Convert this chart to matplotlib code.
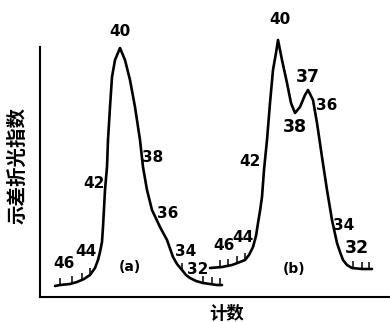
import matplotlib.pyplot as plt
import numpy as np

plt.rcParams['font.family'] = ['Liberation Sans Narrow', 'DejaVu Sans']

# elution curves (count axis, refractive index difference)
a_x = [15, 20, 30, 37, 44, 50, 55, 58, 60, 62, 63, 65, 67, 68, 70, 72, 75,
       80, 85, 90, 95, 100, 103, 107, 112, 120, 127, 133, 137, 142, 146,
       150, 156, 163, 177, 182]
a_y = [11, 12, 13, 15, 18, 22, 29, 37, 45, 55, 70, 107, 130, 157, 190, 220,
       237, 249, 237, 217, 190, 157, 130, 107, 87, 70, 57, 40, 33, 27, 22,
       19, 16, 14, 12, 12]

b_x = [170, 182, 192, 200, 205, 209, 213, 216, 218, 220, 222, 224, 227, 230,
       233, 236, 238, 242, 247, 251, 255, 260, 265, 268, 273, 277, 282, 287,
       292, 297, 300, 303, 307, 312, 322, 332]
b_y = [29, 30, 32, 35, 37, 42, 50, 61, 74, 86, 100, 127, 157, 194, 227, 244,
       257, 237, 214, 194, 184, 190, 202, 207, 197, 174, 140, 107, 77, 54,
       45, 37, 32, 29, 28, 28]

# count marks along the curves
a_ticks = [20, 32, 42, 50, 142, 163, 172, 180]
b_ticks = [180, 188, 197, 205, 313, 322, 329]

a_labels = ['40', '42', '44', '46', '38', '36', '34', '32', '(a)']
a_pos = [(80, 265), (54, 114), (46, 46), (24, 34), (113, 140), (128, 84),
         (146, 45), (158, 28), (90, 30)]
b_labels = ['40', '37', '36', '38', '42', '44', '46', '34', '32', '(b)']
b_pos = [(240, 278), (268, 220), (287, 191), (255, 170), (210, 135),
         (203, 60), (184, 52), (304, 72), (317, 49), (254, 28)]
big = {('b', '38'), ('b', '37'), ('b', '32')}

fig = plt.figure(figsize=(3.9, 3.22), dpi=100)
ax = fig.add_axes([40 / 390, 25 / 322, 350 / 390, 287 / 322])
ax.set_xlim(0, 350)
ax.set_ylim(0, 287)

for xs, ys, ticks in [(a_x, a_y, a_ticks), (b_x, b_y, b_ticks)]:
    ax.plot(xs, ys, color='black', lw=1.9, solid_capstyle='round',
            solid_joinstyle='round', clip_on=False)
    base = np.interp(ticks, xs, ys)
    ax.vlines(ticks, base, base + 7, color='black', lw=1.1)

for tag, labels, pos in [('a', a_labels, a_pos), ('b', b_labels, b_pos)]:
    for lab, (x, y) in zip(labels, pos):
        fs = 12.5 if (tag, lab) in big else 11
        if lab.startswith('('):
            fs = 10
        ax.text(x, y, lab, ha='center', va='center', fontsize=fs,
                fontweight='bold')

for s in ['top', 'right']:
    ax.spines[s].set_visible(False)
ax.spines['left'].set_bounds(0, 250)
ax.spines['left'].set_linewidth(1.5)
ax.spines['bottom'].set_linewidth(1.5)
ax.set_xticks([])
ax.set_yticks([])

cjk = ['Noto Sans CJK SC', 'DejaVu Sans']
fig.text(18 / 390, 1 - 166 / 322, '示差折光指数', rotation=90, ha='center',
         va='center', fontsize=14, fontweight='bold', family=cjk)
fig.text(227 / 390, 1 - 314 / 322, '计数', ha='center', va='center',
         fontsize=12.5, fontweight='bold', family=cjk)

fig.savefig('out.png', dpi=100)
